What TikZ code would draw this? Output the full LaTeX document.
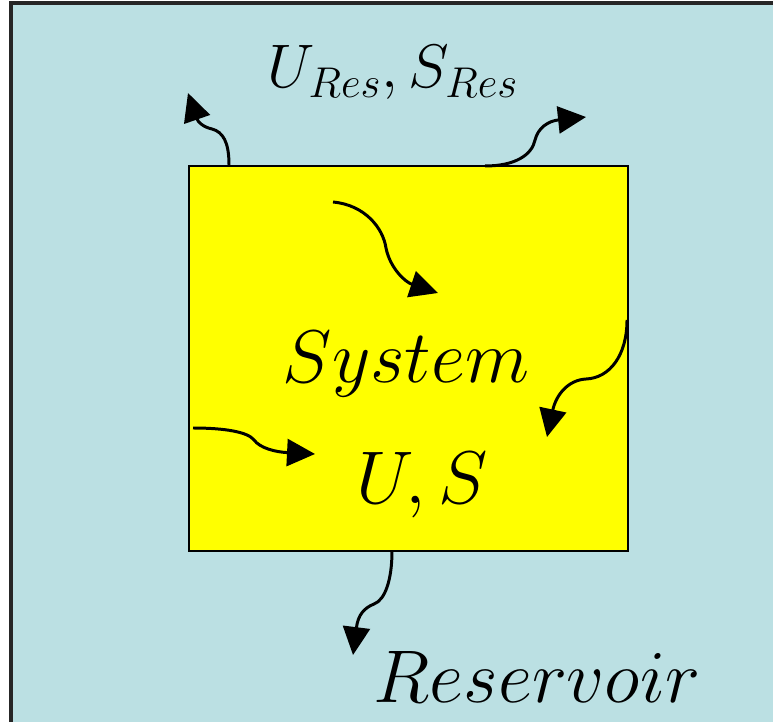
\RequirePackage{fix-cm}
\documentclass[tikz,border=0pt]{standalone}
\usetikzlibrary{arrows.meta}
\definecolor{resblue}{RGB}{187,224,227}
\definecolor{sysyellow}{RGB}{255,255,0}

\begin{document}
\begin{tikzpicture}[
  x=0.02cm, y=-0.02cm,
  >={Triangle[length=0.56cm,width=0.54cm]},
  big/.style={font=\fontsize{42.5}{50}\selectfont, inner sep=0pt, anchor=base},
  small/.style={big, font=\fontsize{35}{40}\selectfont},
  flow/.style={->, line width=1.7pt, draw=black}
]
\useasboundingbox (0,0) rectangle (773,722);
\clip (0,0) rectangle (773,722);
% reservoir and system
\draw[line width=2pt, draw=black!85, fill=resblue] (11,3) rectangle (800,760);
\node[draw, line width=1pt, fill=sysyellow, minimum width=8.78cm, minimum height=7.7cm, inner sep=0pt, anchor=north west] (sys) at (188,165) {};
% labels
\node[small] (resstate) at (393,88) {$U_{Res},S_{Res}$};
\node[big] (syslabel) at (406,382) {$System$};
\node[big] (sysstate) at (422,503) {$U,S$};
\node[big] (reslabel) at (537,702) {$Reservoir$};
% ends of the heat flows
\coordinate (outA) at (229,165);
\coordinate (outAtip) at (188,93);
\coordinate (outB) at (485,166);
\coordinate (outBtip) at (586,117);
\coordinate (inA) at (333,202);
\coordinate (inAtip) at (438,293);
\coordinate (inB) at (627,320);
\coordinate (inBtip) at (547,437);
\coordinate (inC) at (193,428);
\coordinate (inCtip) at (315,454);
\coordinate (outC) at (392,551);
\coordinate (outCtip) at (353,655);
\draw[flow] (outA) .. controls (229,142) and (223,132) .. (212,129) .. controls (203,127) and (198,122) .. (outAtip);
\draw[flow] (outB) .. controls (515,166) and (532,155) .. (535,140) .. controls (538,128) and (548,121) .. (outBtip);
\draw[flow] (inA) .. controls (365,205) and (383,228) .. (386,248) .. controls (390,268) and (405,282) .. (inAtip);
\draw[flow] (inB) .. controls (627,355) and (610,378) .. (586,379) .. controls (568,380) and (556,395) .. (inBtip);
\draw[flow] (inC) .. controls (225,428) and (248,432) .. (254,440) .. controls (260,448) and (275,452) .. (inCtip);
\draw[flow] (outC) .. controls (392,580) and (385,600) .. (374,604) .. controls (364,608) and (358,615) .. (outCtip);
\end{tikzpicture}
\end{document}
